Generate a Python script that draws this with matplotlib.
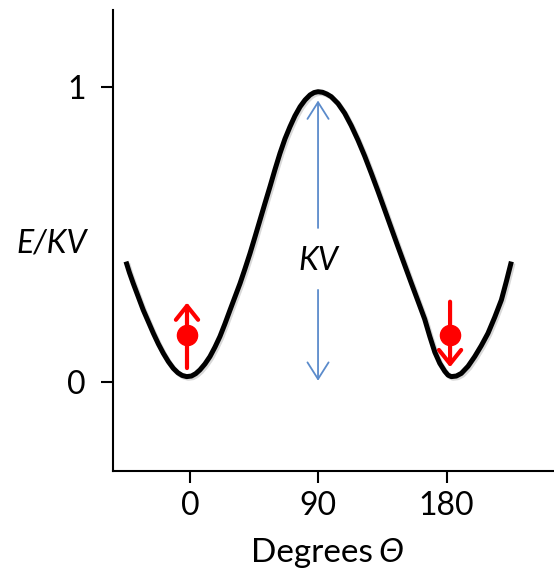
import matplotlib
matplotlib.use("Agg")
import matplotlib.pyplot as plt
from matplotlib.patches import FancyArrowPatch
import matplotlib.patheffects as pe

# ---- data ----
theta = [-44.9, -42.5, -39.8, -36.3, -32.8, -29.2, -25.7, -22.2, -18.7, -15.2,
         -11.7, -8.5, -5.5, -2.3, 1.0, 4.0, 7.0, 10.5, 14.0, 17.5, 21.0, 24.5,
         28.1, 31.6, 35.1, 38.6, 42.1, 45.6, 49.1, 52.6, 56.1, 59.6, 63.1, 66.6,
         70.1, 73.6, 77.2, 80.7, 84.2, 87.0, 89.8, 93.0, 96.0, 99.1, 103.8,
         108.5, 113.1, 117.8, 122.5, 127.2, 131.9, 136.6, 141.2, 145.9, 150.6,
         155.3, 160.0, 164.6, 168.2, 171.7, 175.2, 178.7, 181.0, 183.3, 186.8,
         190.3, 195.0, 199.7, 204.3, 209.0, 213.7, 218.4, 221.9, 225.4]
energy = [0.407, 0.370, 0.333, 0.288, 0.243, 0.203, 0.164, 0.128, 0.096, 0.068,
          0.045, 0.030, 0.021, 0.017, 0.019, 0.027, 0.040, 0.060, 0.085, 0.117,
          0.153, 0.196, 0.243, 0.288, 0.333, 0.383, 0.435, 0.491, 0.548, 0.605,
          0.661, 0.719, 0.774, 0.823, 0.864, 0.901, 0.932, 0.955, 0.972, 0.980,
          0.983, 0.981, 0.975, 0.966, 0.943, 0.910, 0.868, 0.819, 0.765, 0.706,
          0.645, 0.582, 0.520, 0.457, 0.395, 0.333, 0.272, 0.212, 0.153, 0.100,
          0.062, 0.035, 0.022, 0.017, 0.019, 0.028, 0.052, 0.085, 0.122, 0.164,
          0.218, 0.277, 0.340, 0.407]

xticks = [0, 90, 180]
xticklabels = ["0", "90", "180"]
yticks = [0, 1]
yticklabels = ["0", "1"]

# spin markers: (theta, dot E, arrow tail E, arrow tip E)
spin_theta = [-2.1, 182.4]
spin_dot = [0.158, 0.158]
spin_tail = [0.046, 0.271]
spin_tip = [0.268, 0.049]

# KV barrier arrow
kv_theta = 89.8
kv_top_tip, kv_top_tail = 0.953, 0.521
kv_bot_tail, kv_bot_tip = 0.311, 0.003
kv_label_y = 0.41

FONT = ["Lato", "DejaVu Sans"]
plt.rcParams["font.family"] = FONT
FS = 23

fig = plt.figure(figsize=(5.54, 5.74), dpi=100)
ax = fig.add_axes([113/554, (574-471)/574, (554-113)/554, (471-10)/574])

ax.plot(theta, energy, color="black", lw=3.6, solid_capstyle="butt",
        solid_joinstyle="round", zorder=3,
        path_effects=[pe.SimpleLineShadow(offset=(1.2, -1.2), shadow_color="gray", alpha=0.3),
                      pe.Normal()])

# red spin arrows and dots
for t, d, a, b in zip(spin_theta, spin_dot, spin_tail, spin_tip):
    arr = FancyArrowPatch((t, a), (t, b), arrowstyle="->,head_length=0.5,head_width=0.4",
                          mutation_scale=20, color="#FF0000", lw=3.0,
                          shrinkA=0, shrinkB=0, zorder=4)
    ax.add_patch(arr)
    ax.plot([t], [d], "o", color="#FF0000", markersize=14.5, zorder=5)

# blue barrier arrows
blue = "#5B8BCB"
for a, b in [(kv_top_tail, kv_top_tip), (kv_bot_tail, kv_bot_tip)]:
    arr = FancyArrowPatch((kv_theta, a), (kv_theta, b),
                          arrowstyle="->,head_length=0.6,head_width=0.38",
                          mutation_scale=20, color=blue, lw=1.3,
                          shrinkA=0, shrinkB=0, zorder=2)
    ax.add_patch(arr)
ax.text(kv_theta, kv_label_y, "KV", style="italic", fontsize=FS,
        ha="center", va="center", family=FONT)

ax.set_xlim(-54.0, 255.3)
ax.set_ylim(-0.303, 1.26)
ax.set_xticks(xticks)
ax.set_xticklabels(xticklabels)
ax.set_yticks(yticks)
ax.set_yticklabels(yticklabels)
ax.tick_params(axis="both", length=8.6, width=1.5, labelsize=FS, color="black")
ax.tick_params(axis="x", pad=6)
ax.tick_params(axis="y", pad=11)

for s in ["top", "right"]:
    ax.spines[s].set_visible(False)
for s in ["left", "bottom"]:
    ax.spines[s].set_linewidth(1.5)

# x label: "Degrees" upright + italic theta
ax.text((373-113)/441, -(553-471)/461, "Degrees", fontsize=FS + 1, ha="right",
        va="center", transform=ax.transAxes)
ax.text((378-113)/441, -(553-471)/461, "Θ", fontsize=FS + 1, style="italic",
        ha="left", va="center", transform=ax.transAxes)

ax.set_ylabel("E/KV", fontsize=FS, style="italic", rotation=0, ha="center", va="center")
ax.yaxis.set_label_coords((52-113)/441, (471-244)/461)

fig.savefig("out.png", dpi=100)
